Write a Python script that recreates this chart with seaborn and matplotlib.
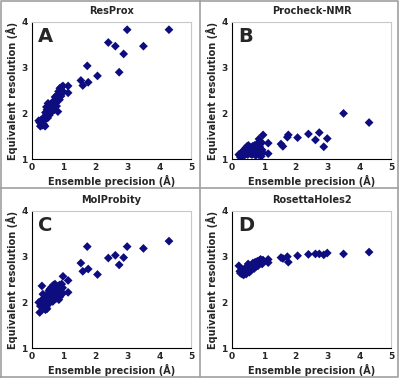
import numpy as np
import pandas as pd
import matplotlib
matplotlib.use('Agg')
import matplotlib.pyplot as plt
import seaborn as sns
from matplotlib.lines import Line2D

# precision del ensamble (mismos valores en los cuatro paneles)
precision = [4.30, 3.50, 2.99, 2.88, 2.74, 2.62, 2.40, 2.06, 1.77, 1.74, 1.60, 1.54, 1.14, 1.14, 0.98,
             0.22, 0.25, 0.27, 0.30, 0.32, 0.33, 0.35, 0.37, 0.38, 0.40, 0.42, 0.43, 0.45, 0.46, 0.48,
             0.50, 0.51, 0.52, 0.54, 0.55, 0.56, 0.58, 0.60, 0.61, 0.63, 0.65, 0.66, 0.68, 0.70, 0.71,
             0.73, 0.75, 0.77, 0.78, 0.80, 0.82, 0.84, 0.85, 0.87, 0.88, 0.90, 0.92, 0.94, 0.95, 0.97]

resprox = [3.83, 3.47, 3.83, 3.30, 2.90, 3.47, 3.55, 2.82, 2.68, 3.04, 2.61, 2.72, 2.60, 2.45, 2.60,
           1.84, 1.80, 1.72, 1.86, 1.78, 1.74, 1.88, 1.83, 1.76, 1.92, 1.72, 2.02, 1.96, 2.14, 2.08,
           1.90, 2.22, 2.00, 2.12, 1.96, 2.18, 2.06, 2.20, 2.02, 2.14, 2.10, 2.24, 2.18, 2.28, 2.08,
           2.36, 2.22, 2.30, 2.16, 2.40, 2.04, 2.48, 2.34, 2.30, 2.55, 2.42, 2.38, 2.58, 2.50, 2.46]

procheck = [1.80, 2.00, 1.45, 1.27, 1.58, 1.42, 1.55, 1.47, 1.53, 1.48, 1.28, 1.33, 1.35, 1.12, 1.53,
            1.10, 1.08, 1.04, 1.14, 1.06, 1.12, 1.18, 1.08, 1.15, 1.20, 1.10, 1.24, 1.12, 1.16, 1.28,
            1.10, 1.22, 1.30, 1.14, 1.20, 1.26, 1.12, 1.18, 1.24, 1.10, 1.28, 1.16, 1.22, 1.12, 1.30,
            1.18, 1.08, 1.24, 1.14, 1.34, 1.20, 1.10, 1.44, 1.28, 1.16, 1.22, 1.06, 1.36, 1.20, 1.14]

molprobity = [3.34, 3.18, 3.22, 2.98, 2.82, 3.03, 2.97, 2.61, 2.73, 3.22, 2.68, 2.86, 2.48, 2.22, 2.57,
              2.00, 1.78, 1.92, 2.04, 2.36, 1.96, 2.18, 1.88, 2.08, 1.94, 2.02, 1.84, 2.12, 1.90, 1.86,
              2.06, 2.20, 1.96, 2.26, 2.00, 2.14, 2.30, 2.04, 2.24, 2.34, 2.10, 2.02, 2.38, 2.22, 2.30,
              2.40, 2.08, 2.26, 2.16, 2.34, 2.20, 2.28, 2.06, 2.38, 2.12, 2.30, 2.24, 2.40, 2.18, 2.32]

rosettaholes = [3.10, 3.06, 3.08, 3.04, 3.06, 3.06, 3.05, 3.02, 2.88, 3.00, 2.96, 2.98, 2.94, 2.87, 2.92,
                2.80, 2.68, 2.64, 2.70, 2.62, 2.66, 2.72, 2.60, 2.68, 2.64, 2.74, 2.66, 2.62, 2.70, 2.78,
                2.68, 2.84, 2.72, 2.76, 2.66, 2.80, 2.74, 2.70, 2.78, 2.82, 2.76, 2.86, 2.80, 2.74, 2.84,
                2.88, 2.78, 2.82, 2.86, 2.90, 2.80, 2.88, 2.84, 2.92, 2.86, 2.94, 2.88, 2.90, 2.84, 2.92]

titulos = ['ResProx', 'Procheck-NMR', 'MolProbity', 'RosettaHoles2']
letras = ['A', 'B', 'C', 'D']
series = [resprox, procheck, molprobity, rosettaholes]

sns.set_style('white')
plt.rcParams['font.family'] = ['DejaVu Sans']
plt.rcParams['font.weight'] = 'bold'

fig = plt.figure(figsize=(3.99, 3.78), dpi=100)

# posiciones de los ejes [izq, abajo, ancho, alto]
posiciones = [[0.0795, 0.579, 0.400, 0.363],
              [0.581, 0.579, 0.400, 0.363],
              [0.0795, 0.079, 0.400, 0.363],
              [0.581, 0.079, 0.400, 0.363]]

for pos, titulo, letra, valores in zip(posiciones, titulos, letras, series):
    ax = fig.add_axes(pos)
    df = pd.DataFrame({'x': precision, 'y': valores})
    sns.scatterplot(data=df, x='x', y='y', ax=ax, marker='D', s=20,
                    color='#0d0d80', edgecolor='none', linewidth=0)
    ax.set_xlim(0, 5)
    ax.set_ylim(1, 4)
    ax.set_xticks([0, 1, 2, 3, 4, 5])
    ax.set_yticks([1, 2, 3, 4])
    ax.set_xlabel('Ensemble precision (Å)', fontsize=7, fontweight='bold', labelpad=2)
    ax.set_ylabel('Equivalent resolution (Å)', fontsize=7, fontweight='bold', labelpad=2)
    ax.set_title(titulo, fontsize=7, fontweight='bold', pad=6)
    ax.tick_params(direction='inout', length=4, width=0.8, labelsize=6.5, pad=1)
    for lab in ax.get_xticklabels() + ax.get_yticklabels():
        lab.set_fontweight('bold')
    ax.spines['left'].set_color('black')
    ax.spines['bottom'].set_color('black')
    ax.spines['top'].set_color('#c8c8c8')
    ax.spines['right'].set_color('#c8c8c8')
    for sp in ax.spines.values():
        sp.set_linewidth(0.8)
    ax.text(0.04, 0.96, letra, transform=ax.transAxes, fontsize=14,
            fontweight='bold', va='top', ha='left')

# marco gris y lineas divisorias
gris = '#a0a0a0'
fig.add_artist(Line2D([0.002, 0.998, 0.998, 0.002, 0.002], [0.002, 0.002, 0.998, 0.998, 0.002],
                      color=gris, linewidth=1.2, transform=fig.transFigure))
fig.add_artist(Line2D([0.501, 0.501], [0, 1], color=gris, linewidth=1.2, transform=fig.transFigure))
fig.add_artist(Line2D([0, 1], [0.503, 0.503], color=gris, linewidth=1.2, transform=fig.transFigure))

fig.savefig('out.png', dpi=100)
